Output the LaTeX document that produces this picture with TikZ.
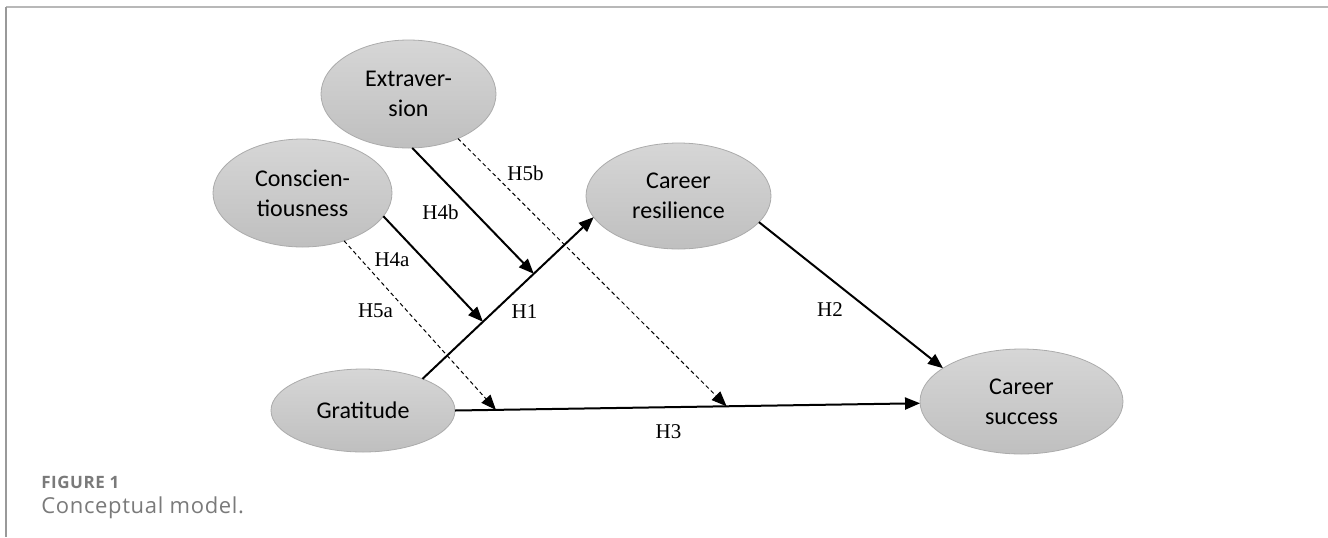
\documentclass[tikz,border=0pt]{standalone}
\usepackage{fontspec}
\usetikzlibrary{shapes.geometric,arrows.meta,calc}
\newfontfamily\nodefont{Carlito}
\newfontfamily\hfont{Liberation Serif}
\newfontfamily\capfont[LetterSpace=3]{Open Sans}
\definecolor{framegray}{HTML}{B8B8B8}
\definecolor{capgray}{HTML}{7A7A7A}
\tikzset{
  latent/.style={ellipse, draw=black!33, line width=0.4pt, top color=black!16, bottom color=black!25,
    inner sep=0pt, outer sep=0pt, align=center, font=\nodefont\fontsize{12}{15}\selectfont},
  effect/.style={line width=1pt, -{Triangle[length=7.5pt,width=6pt]}},
  moder/.style={line width=0.5pt, dash pattern=on 2pt off 1.5pt, -{Triangle[length=7.5pt,width=6pt]}},
  hlab/.style={font=\hfont\fontsize{10.5}{12}\selectfont, inner sep=0pt},
}
\begin{document}
\begin{tikzpicture}[x=0.5pt,y=-0.5pt]
            \useasboundingbox (0,0) rectangle (1328,537);
            % frame of the figure
            \draw[framegray, line width=1pt] (6,7) -- (1328,7);
            \draw[black!40, line width=0.6pt] (6,7) -- (6,537);
            % constructs
            \node[latent, minimum width=87.5pt, minimum height=54pt] (extra) at (408.5,94) {Extraver-\\sion};
            \node[latent, minimum width=89.5pt, minimum height=54pt] (consc) at (302.5,193) {Conscien-\\tiousness};
            \node[latent, minimum width=92.5pt, minimum height=53pt] (resil) at (678.5,196) {Career\\resilience};
            \node[latent, minimum width=101.5pt, minimum height=52.5pt] (succ) at (1021.5,401.5) {Career\\success};
            \node[latent, minimum width=92pt, minimum height=41.5pt] (grat) at (363,410.5) {Gratitude};
            % points where the moderators meet the paths
            \coordinate (m4a) at ($(grat.28)!0.353!(resil.194)$);
            \coordinate (m4b) at ($(grat.28)!0.65!(resil.194)$);
            \coordinate (m5a) at ($(grat.east)!0.088!(succ.181)$);
            \coordinate (m5b) at ($(grat.east)!0.584!(succ.181)$);
            % hypothesised paths
            \draw[effect] (grat.28) -- (resil.194);
            \draw[effect] (resil.342) -- (succ.157);
            \draw[effect] (grat.east) -- (succ.181);
            \draw[effect] (consc.344) -- (m4a);
            \draw[effect] (extra.274) -- (m4b);
            \draw[moder] (consc.311) -- (m5a);
            \draw[moder] (extra.318) -- (m5b);
            % labels
            \node[hlab] (h1) at (524.5,312) {H1};
            \node[hlab] (h2) at (830,310) {H2};
            \node[hlab] (h3) at (668.5,432) {H3};
            \node[hlab] (h4a) at (392,260) {H4a};
            \node[hlab] (h4b) at (440.5,212) {H4b};
            \node[hlab] (h5a) at (375.5,311) {H5a};
            \node[hlab] (h5b) at (525.5,173) {H5b};
            % caption
            \node[anchor=base west, inner sep=0pt, text=capgray, font=\capfont\bfseries\fontsize{8.5}{9}\selectfont] (fig) at (41,488) {FIGURE 1};
            \node[anchor=base west, inner sep=0pt, text=capgray, font=\capfont\fontsize{11}{12}\selectfont] (capt) at (41,513) {Conceptual model.};
\end{tikzpicture}
\end{document}
